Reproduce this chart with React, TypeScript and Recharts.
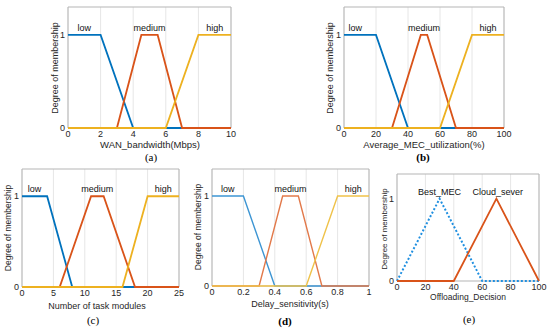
import React from 'react';
import { LineChart, Line, XAxis, YAxis, CartesianGrid, ReferenceArea, ReferenceDot } from 'recharts';

// membership functions
const wanTicks = [0, 2, 4, 6, 8, 10];
const wanLow = [{ x: 0, y: 1 }, { x: 2, y: 1 }, { x: 4, y: 0 }, { x: 10, y: 0 }];
const wanMedium = [{ x: 0, y: 0 }, { x: 3, y: 0 }, { x: 4.5, y: 1 }, { x: 5.5, y: 1 }, { x: 7, y: 0 }, { x: 10, y: 0 }];
const wanHigh = [{ x: 0, y: 0 }, { x: 6, y: 0 }, { x: 8, y: 1 }, { x: 10, y: 1 }];

const mecTicks = [0, 20, 40, 60, 80, 100];
const mecLow = [{ x: 0, y: 1 }, { x: 20, y: 1 }, { x: 40, y: 0 }, { x: 100, y: 0 }];
const mecMedium = [{ x: 0, y: 0 }, { x: 30, y: 0 }, { x: 48, y: 1 }, { x: 52, y: 1 }, { x: 70, y: 0 }, { x: 100, y: 0 }];
const mecHigh = [{ x: 0, y: 0 }, { x: 60, y: 0 }, { x: 80, y: 1 }, { x: 100, y: 1 }];

const taskTicks = [0, 5, 10, 15, 20, 25];
const taskLow = [{ x: 0, y: 1 }, { x: 4, y: 1 }, { x: 8, y: 0 }, { x: 25, y: 0 }];
const taskMedium = [{ x: 0, y: 0 }, { x: 6, y: 0 }, { x: 11, y: 1 }, { x: 13, y: 1 }, { x: 18, y: 0 }, { x: 25, y: 0 }];
const taskHigh = [{ x: 0, y: 0 }, { x: 16, y: 0 }, { x: 20, y: 1 }, { x: 25, y: 1 }];

const delayTicks = [0, 0.2, 0.4, 0.6, 0.8, 1];
const delayLow = [{ x: 0, y: 1 }, { x: 0.2, y: 1 }, { x: 0.4, y: 0 }, { x: 1, y: 0 }];
const delayMedium = [{ x: 0, y: 0 }, { x: 0.3, y: 0 }, { x: 0.45, y: 1 }, { x: 0.55, y: 1 }, { x: 0.7, y: 0 }, { x: 1, y: 0 }];
const delayHigh = [{ x: 0, y: 0 }, { x: 0.6, y: 0 }, { x: 0.8, y: 1 }, { x: 1, y: 1 }];

const decisionTicks = [0, 20, 40, 60, 80, 100];
const bestMec = [{ x: 0, y: 0 }, { x: 30, y: 1 }, { x: 60, y: 0 }, { x: 100, y: 0 }];
const cloudSever = [{ x: 0, y: 0 }, { x: 40, y: 0 }, { x: 70, y: 1 }, { x: 100, y: 0 }];

const yTicks = [0, 1];
const Y_MAX = 1.3;

const SANS = '"Liberation Sans", Arial, sans-serif';
const SERIF = '"Liberation Serif", "Times New Roman", serif';

const BLUE = '#0072bd';
const ORANGE = '#d95319';
const YELLOW = '#edb120';

type Pt = { x: number; y: number };
type Series = { data: Pt[]; color: string; width?: number; dash?: string };
type Lbl = { x: number; text: string };

interface PanelProps {
  box: { left: number; top: number; width: number; height: number };
  plot: { left: number; top: number; right: number; bottom: number };
  ticks: number[];
  series: Series[];
  labels: Lbl[];
}

function Panel({ box, plot, ticks, series, labels }: PanelProps) {
  const xMin = ticks[0];
  const xMax = ticks[ticks.length - 1];
  return (
    <div style={{ position: 'absolute', left: box.left, top: box.top }}>
      <LineChart
        width={box.width}
        height={box.height}
        margin={{ top: plot.top - box.top, right: box.left + box.width - plot.right, left: 0, bottom: 0 }}
      >
        <CartesianGrid horizontal={false} stroke="#e6e6e6" />
        <XAxis
          type="number"
          dataKey="x"
          domain={[xMin, xMax]}
          ticks={ticks}
          height={box.top + box.height - plot.bottom}
          axisLine={false}
          tickLine={false}
          tickSize={2}
          tickMargin={1}
          tick={{ fontSize: 9, fill: '#262626', fontFamily: SANS }}
        />
        <YAxis
          type="number"
          domain={[0, Y_MAX]}
          ticks={yTicks}
          width={plot.left - box.left}
          axisLine={false}
          tickLine={false}
          tickSize={2}
          tickMargin={1}
          tick={{ fontSize: 9, fill: '#262626', fontFamily: SANS }}
        />
        <ReferenceArea x1={xMin} x2={xMax} y1={0} y2={Y_MAX} fill="none" stroke="#b5b5b5" strokeWidth={1} />
        {series.map((s, i) => (
          <Line
            key={i}
            data={s.data}
            dataKey="y"
            type="linear"
            stroke={s.color}
            strokeWidth={s.width ?? 1.8}
            strokeDasharray={s.dash}
            dot={false}
            activeDot={false}
            isAnimationActive={false}
          />
        ))}
        {labels.map((l, i) => (
          <ReferenceDot
            key={'l' + i}
            x={l.x}
            y={1.08}
            r={0}
            fill="none"
            stroke="none"
            label={{ value: l.text, position: 'center', fontSize: 9, fill: '#111', fontFamily: SANS }}
          />
        ))}
      </LineChart>
    </div>
  );
}

function Text({ x, y, children, size = 9, serif = false, bold = false, rotate = false }: any) {
  return (
    <div
      style={{
        position: 'absolute',
        left: x,
        top: y,
        transform: `translate(-50%, -50%)${rotate ? ' rotate(-90deg)' : ''}`,
        whiteSpace: 'nowrap',
        fontSize: size,
        fontFamily: serif ? SERIF : SANS,
        fontWeight: bold ? 'bold' : 'normal',
        color: serif ? '#000' : '#262626',
        lineHeight: 1,
      }}
    >
      {children}
    </div>
  );
}

export default function App() {
  return (
    <div style={{ position: 'absolute', left: 0, top: 0, width: 550, height: 329, background: '#fff', overflow: 'hidden' }}>
      <Panel
        box={{ left: 0, top: 0, width: 275, height: 145 }}
        plot={{ left: 68, top: 7, right: 231, bottom: 128 }}
        ticks={wanTicks}
        series={[
          { data: wanLow, color: BLUE },
          { data: wanMedium, color: ORANGE },
          { data: wanHigh, color: YELLOW },
        ]}
        labels={[{ x: 1, text: 'low' }, { x: 5, text: 'medium' }, { x: 9, text: 'high' }]}
      />
      <Text x={55} y={68} rotate>Degree of membership</Text>
      <Text x={150} y={145} size={9.5}>WAN_bandwidth(Mbps)</Text>
      <Text x={151} y={157} size={11} serif>(a)</Text>

      <Panel
        box={{ left: 275, top: 0, width: 275, height: 145 }}
        plot={{ left: 344, top: 7, right: 504, bottom: 128 }}
        ticks={mecTicks}
        series={[
          { data: mecLow, color: BLUE },
          { data: mecMedium, color: ORANGE },
          { data: mecHigh, color: YELLOW },
        ]}
        labels={[{ x: 7, text: 'low' }, { x: 50, text: 'medium' }, { x: 90, text: 'high' }]}
      />
      <Text x={330} y={68} rotate>Degree of membership</Text>
      <Text x={424} y={145} size={9.5}>Average_MEC_utilization(%)</Text>
      <Text x={423} y={157} size={11} serif bold>(b)</Text>

      <Panel
        box={{ left: 0, top: 160, width: 190, height: 145 }}
        plot={{ left: 22, top: 169, right: 179, bottom: 287 }}
        ticks={taskTicks}
        series={[
          { data: taskLow, color: BLUE },
          { data: taskMedium, color: ORANGE },
          { data: taskHigh, color: YELLOW },
        ]}
        labels={[{ x: 2, text: 'low' }, { x: 12, text: 'medium' }, { x: 22.5, text: 'high' }]}
      />
      <Text x={8} y={228} size={8.5} rotate>Degree of membership</Text>
      <Text x={97} y={306} size={9}>Number of task modules</Text>
      <Text x={93} y={320} size={11} serif>(c)</Text>

      <Panel
        box={{ left: 190, top: 160, width: 190, height: 145 }}
        plot={{ left: 212, top: 169, right: 369, bottom: 286 }}
        ticks={delayTicks}
        series={[
          { data: delayLow, color: '#3d95d3', width: 1.4 },
          { data: delayMedium, color: '#e2794a', width: 1.4 },
          { data: delayHigh, color: '#efc24a', width: 1.4 },
        ]}
        labels={[{ x: 0.1, text: 'low' }, { x: 0.5, text: 'medium' }, { x: 0.9, text: 'high' }]}
      />
      <Text x={198} y={227} size={8.5} rotate>Degree of membership</Text>
      <Text x={290} y={304} size={9}>Delay_sensitivity(s)</Text>
      <Text x={285} y={321} size={11} serif bold>(d)</Text>

      <Panel
        box={{ left: 380, top: 160, width: 170, height: 135 }}
        plot={{ left: 397, top: 174, right: 539, bottom: 281 }}
        ticks={decisionTicks}
        series={[
          { data: bestMec, color: '#1f8fe0', width: 2, dash: '2 2' },
          { data: cloudSever, color: ORANGE, width: 1.8 },
        ]}
        labels={[{ x: 30, text: 'Best_MEC' }, { x: 71, text: 'Cloud_sever' }]}
      />
      <Text x={385} y={229} size={8} rotate>Degree of membership</Text>
      <Text x={468} y={297} size={8.5}>Offloading_Decision</Text>
      <Text x={469} y={319} size={11} serif>(e)</Text>
    </div>
  );
}
